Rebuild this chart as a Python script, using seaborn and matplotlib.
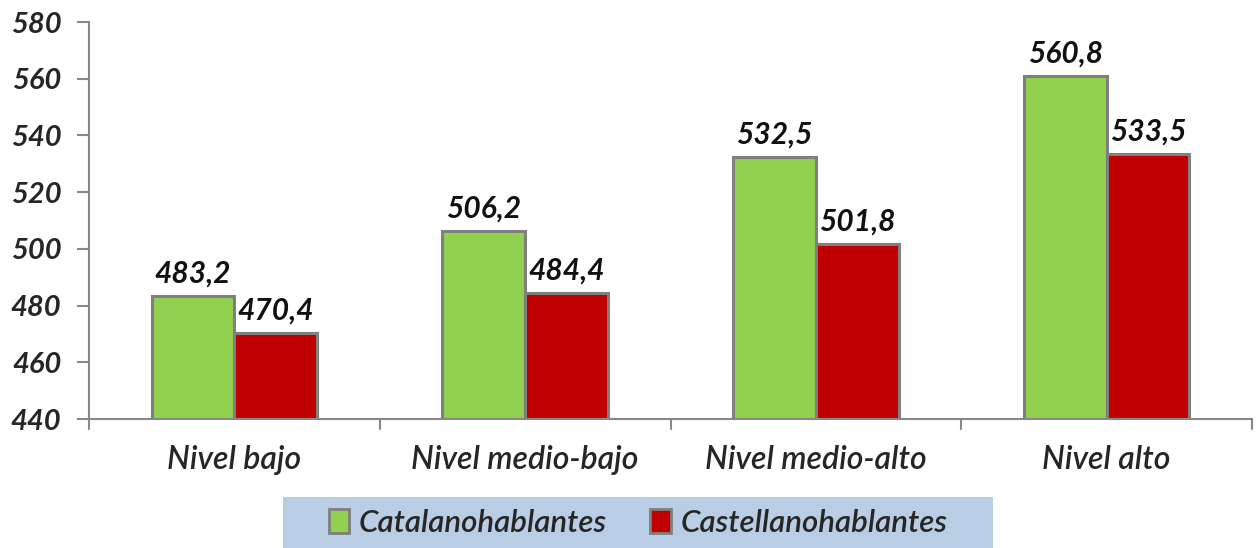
import matplotlib
matplotlib.use("Agg")
import matplotlib.pyplot as plt
import seaborn as sns
import pandas as pd
from matplotlib.patches import Patch

categories = ["Nivel bajo", "Nivel medio-bajo", "Nivel medio-alto", "Nivel alto"]
catalan = [483.2, 506.2, 532.5, 560.8]
castellano = [470.4, 484.4, 501.8, 533.5]
series_names = ["Catalanohablantes", "Castellanohablantes"]
yticks = [440, 460, 480, 500, 520, 540, 560, 580]

sns.set_theme(style="white")
plt.rcParams['font.family'] = ['Lato', 'DejaVu Sans']

df = pd.DataFrame({
    "cat": categories * 2,
    "val": catalan + castellano,
    "serie": [series_names[0]] * 4 + [series_names[1]] * 4,
})

colors = ["#92D050", "#C00000"]
fig = plt.figure(figsize=(12.59, 5.48), dpi=100)
ax = fig.add_axes([89/1259, 1-419/548, (1252-89)/1259, (419-22)/548])

sns.barplot(data=df, x="cat", y="val", hue="serie", palette=colors,
            width=0.57, edgecolor="#7F7F7F", linewidth=2.2, ax=ax,
            legend=False, saturation=1)

# bars start from bottom of axis (440)
for p in ax.patches:
    h = p.get_height()
    p.set_y(440)
    p.set_height(h - 440)

ax.set_ylim(440, 580)
ax.set_xlim(-0.5, 3.5)
ax.set_yticks(yticks)
ax.set_yticklabels([str(v) for v in yticks], fontsize=21, fontweight="bold", style="italic")
ax.set_xticks(range(4))
ax.set_xticklabels(categories, fontsize=23, style="italic", fontweight="semibold")
ax.tick_params(axis="x", length=0, pad=19)
ax.tick_params(axis="y", length=9, width=1.5, color="#888888", pad=11, direction="out", left=True)
ax.set_xlabel("")
ax.set_ylabel("")
for s in ["top", "right"]:
    ax.spines[s].set_visible(False)
for s in ["left", "bottom"]:
    ax.spines[s].set_color("#888888")
    ax.spines[s].set_linewidth(1.5)

# category boundary ticks on x axis
for b in [-0.5, 0.5, 1.5, 2.5, 3.5]:
    ax.plot([b, b], [0, -0.025], transform=ax.get_xaxis_transform(), color="#888888",
            lw=1.5, clip_on=False)

# value labels
for cont in ax.containers:
    for bar, v in zip(cont, cont.datavalues):
        top = bar.get_y() + bar.get_height()
        ax.text(bar.get_x() + bar.get_width()/2, top + 3.0,
                f"{v:.1f}".replace(".", ","), ha="center", va="bottom",
                fontsize=21.5, fontweight="bold", style="italic", color="#111111")

# legend box
handles = [Patch(facecolor=c, edgecolor="#7F7F7F", linewidth=2) for c in colors]
leg = fig.legend(handles, series_names, loc="center",
                 bbox_to_anchor=(283/1259, 0, (993-283)/1259, 1-497/548),
                 ncol=2, frameon=False,
                 prop={"style": "italic", "weight": "semibold", "size": 22.5},
                 handlelength=0.65, handleheight=0.8, handletextpad=0.3, columnspacing=1.4,
                 borderaxespad=0)
bg = plt.Rectangle((283/1259, 0), (993-283)/1259, 1-497/548, transform=fig.transFigure,
                   facecolor="#B9CDE5", edgecolor="none", zorder=-1)
fig.patches.append(bg)

fig.savefig("out.png", dpi=100)
